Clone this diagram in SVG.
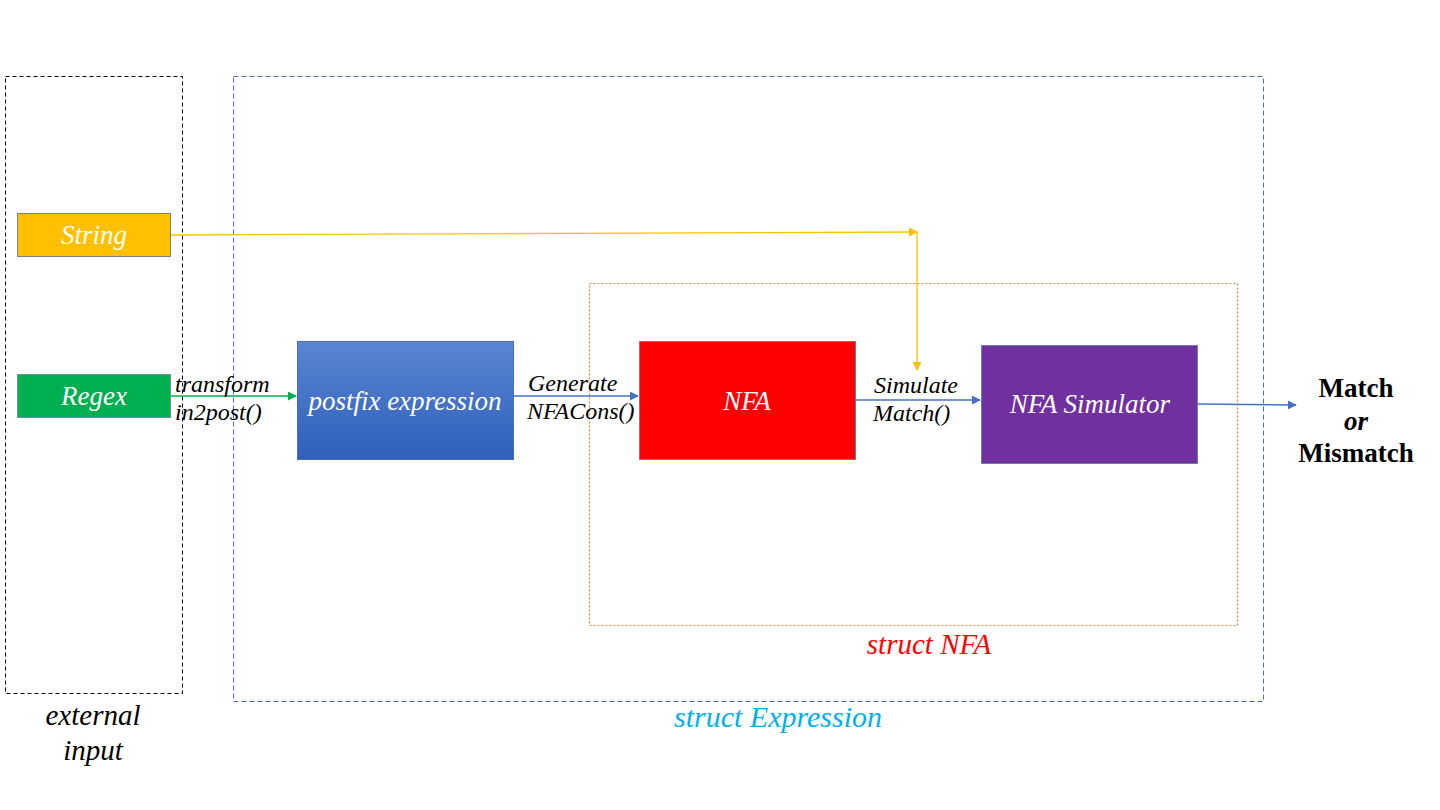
<svg xmlns="http://www.w3.org/2000/svg" width="1440" height="810" viewBox="0 0 1440 810" font-family="'Liberation Serif', 'Times New Roman', serif">
<defs>
<linearGradient id="gBlue" x1="0" y1="0" x2="0" y2="1">
<stop offset="0" stop-color="#5B85D1"/>
<stop offset="1" stop-color="#2D5FBC"/>
</linearGradient>
<marker id="aBlue" viewBox="0 0 10 10" refX="9" refY="5" markerWidth="9" markerHeight="9" markerUnits="userSpaceOnUse" orient="auto"><path d="M0,0L10,5L0,10z" fill="#4472C4"/></marker>
<marker id="aGreen" viewBox="0 0 10 10" refX="9" refY="5" markerWidth="9" markerHeight="9" markerUnits="userSpaceOnUse" orient="auto"><path d="M0,0L10,5L0,10z" fill="#00B050"/></marker>
<marker id="aYellow" viewBox="0 0 10 10" refX="9" refY="5" markerWidth="9" markerHeight="9" markerUnits="userSpaceOnUse" orient="auto"><path d="M0,0L10,5L0,10z" fill="#FFC000"/></marker>
</defs>
<style>
text{font-family:'Liberation Serif','Times New Roman',serif;}
.it{font-style:italic;}
.w{fill:#ffffff;font-style:italic;font-size:27px;text-anchor:middle;}
.lbl{fill:#000;font-style:italic;font-size:24px;}
.res{font-weight:bold;font-size:27px;text-anchor:middle;fill:#000;}
</style>
<rect width="1440" height="810" fill="#ffffff"/>
<g id="external-input">
<rect x="5.5" y="76.5" width="177" height="617" fill="none" stroke="#000" stroke-dasharray="4,3"/>
<text x="93" y="725" class="it" font-size="29" text-anchor="middle">external</text>
<text x="93" y="760" class="it" font-size="29" text-anchor="middle">input</text>
</g>
<g id="struct-expression">
<rect x="233.5" y="76.5" width="1030" height="625" fill="none" stroke="#4472C4" stroke-dasharray="5,3"/>
<text x="778" y="727" class="it" font-size="30" text-anchor="middle" fill="#00B0F0">struct Expression</text>
</g>
<g id="struct-nfa">
<rect x="589.5" y="283.5" width="648" height="342" fill="none" stroke="#F08030" stroke-width="1.2" stroke-dasharray="2,2"/>
<text x="929" y="654" class="it" font-size="29" text-anchor="middle" fill="#FF0000">struct NFA</text>
</g>
<g id="connectors" fill="none" stroke-width="1.3">
<path d="M170,396 H296" stroke="#00B050" marker-end="url(#aGreen)"/>
<path d="M513,396 H638" stroke="#4472C4" marker-end="url(#aBlue)"/>
<path d="M855,400 H980" stroke="#4472C4" marker-end="url(#aBlue)"/>
<path d="M1197,404 L1296,405" stroke="#4472C4" marker-end="url(#aBlue)"/>
<path d="M170,235 L917,232" stroke="#FFC000" marker-end="url(#aYellow)"/>
<path d="M917,232 V370" stroke="#FFC000" marker-end="url(#aYellow)"/>
<text x="175" y="392" class="lbl" stroke="none">transform</text>
<text x="175" y="420" class="lbl" stroke="none">in2post()</text>
<text x="528" y="391" class="lbl" stroke="none">Generate</text>
<text x="527" y="419" class="lbl" stroke="none">NFACons()</text>
<text x="874" y="393" class="lbl" stroke="none">Simulate</text>
<text x="873" y="421" class="lbl" stroke="none">Match()</text>
</g>
<g id="node-string">
<rect x="17.5" y="213.5" width="153" height="43" fill="#FFC000" stroke="#7f7f7f"/>
<text x="94" y="244" class="w">String</text>
</g>
<g id="node-regex">
<rect x="17.5" y="374.5" width="153" height="43" fill="#00B050" stroke="#6d8fb0"/>
<text x="94" y="405" class="w">Regex</text>
</g>
<g id="node-postfix">
<rect x="297.5" y="341.5" width="216" height="118" fill="url(#gBlue)" stroke="#4a6fb8"/>
<text x="405" y="410" class="w">postfix expression</text>
</g>
<g id="node-nfa">
<rect x="639.5" y="341.5" width="216" height="118" fill="#FF0000" stroke="#6d7fa6"/>
<text x="747" y="410" class="w">NFA</text>
</g>
<g id="node-simulator">
<rect x="981.5" y="345.5" width="216" height="118" fill="#7030A0" stroke="#6d7fa6"/>
<text x="1090" y="413" class="w" font-size="25">NFA Simulator</text>
</g>
<g id="result">
<text x="1356" y="397" class="res">Match</text>
<text x="1356" y="430" class="res" font-style="italic">or</text>
<text x="1356" y="462" class="res">Mismatch</text>
</g>
</svg>
